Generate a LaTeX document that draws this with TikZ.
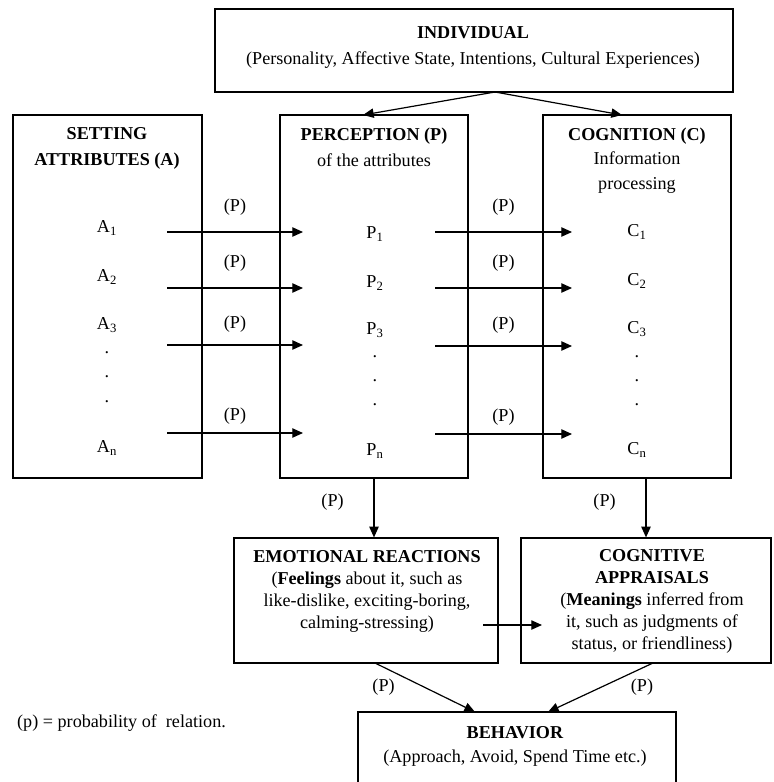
\documentclass[tikz,border=0pt]{standalone}
\usepackage{fontspec}
\setmainfont{Liberation Serif}
\usetikzlibrary{arrows.meta}
\begin{document}
\begin{tikzpicture}
[x=0.75pt,y=-0.75pt,font=\fontsize{13.6}{16.5}\selectfont,
  boxdecorate/.style 2 args={draw,line width=0.9pt,inner sep=0pt,%
    minimum width=#1*0.75pt,minimum height=#2*0.75pt},
  titledecorate/.style={align=center,font=\fontsize{13.6}{19.5}\selectfont},
  textdecorate/.style={align=center,font=\fontsize{13.6}{16.5}\selectfont},
  arrowdecorate/.style={-{Triangle[length=8pt,width=7pt]},line width=0.9pt}]
\useasboundingbox (0,0) rectangle (774,782);
% boxes
\node (indiv) [boxdecorate={518}{83}] at (474,50.5) {};
\node (setting) [boxdecorate={189}{363}] at (107.5,296.5) {};
\node (percep) [boxdecorate={188}{363}] at (374,296.5) {};
\node (cognit) [boxdecorate={188}{363}] at (637,296.5) {};
\node (emotion) [boxdecorate={264}{125}] at (366,600.5) {};
\node (apprais) [boxdecorate={250}{125}] at (646,600.5) {};
\node (behav) [boxdecorate={318}{80}] at (517,752) {};
% box texts
\node (indivtxt) [titledecorate] at (473,47)
  {\textbf{INDIVIDUAL}\\(Personality, Affective State, Intentions, Cultural Experiences)};
\node (settingtxt) [titledecorate] at (107,148) {\textbf{SETTING}\\\textbf{ATTRIBUTES (A)}};
\node (perceptxt) [titledecorate] at (374,147.5) {\textbf{PERCEPTION (P)}\\of the attributes};
\node (cognittxt) [titledecorate,font=\fontsize{13.6}{18.5}\selectfont] at (637,160.5)
  {\textbf{COGNITION (C)}\\Information\\processing};
\node (emotiontxt) [textdecorate] at (367,591)
  {\textbf{EMOTIONAL REACTIONS}\\(\textbf{Feelings} about it, such as\\like-dislike, exciting-boring,\\calming-stressing)};
\node (appraistxt) [textdecorate] at (652,601)
  {\textbf{COGNITIVE}\\\textbf{APPRAISALS}\\(\textbf{Meanings} inferred from\\it, such as judgments of\\status, or friendliness)};
\node (behavtxt) [textdecorate,font=\fontsize{13.6}{17.5}\selectfont] at (515,746.5)
  {\textbf{BEHAVIOR}\\(Approach, Avoid, Spend Time etc.)};
\node (legend) [anchor=west] at (12.5,723) {(p) = probability of\ \ relation.};
% attributes, perceptions, cognitions
\node (a1) at (107,228) {A\textsubscript{1}};
\node (a2) at (107,277) {A\textsubscript{2}};
\node (a3) at (107,325) {A\textsubscript{3}};
\node (adot1) at (107,353) {.};
\node (adot2) at (107,377) {.};
\node (adot3) at (107,402) {.};
\node (an) at (107,448) {A\textsubscript{n}};
\node (p1) at (375,234) {P\textsubscript{1}};
\node (p2) at (375,283) {P\textsubscript{2}};
\node (p3) at (375,330) {P\textsubscript{3}};
\node (pdot1) at (375,357) {.};
\node (pdot2) at (375,381) {.};
\node (pdot3) at (375,405) {.};
\node (pn) at (375,451) {P\textsubscript{n}};
\node (c1) at (637,232) {C\textsubscript{1}};
\node (c2) at (637,281) {C\textsubscript{2}};
\node (c3) at (637,329) {C\textsubscript{3}};
\node (cdot1) at (637,357) {.};
\node (cdot2) at (637,381) {.};
\node (cdot3) at (637,405) {.};
\node (cn) at (637,450) {C\textsubscript{n}};
% arrow ends
\coordinate (indivout) at (495,92);
\coordinate (pertop) at (363,115);
\coordinate (cogtop) at (622,115);
\coordinate (aout1) at (167,232); \coordinate (pin1) at (303,232);
\coordinate (aout2) at (167,288); \coordinate (pin2) at (303,288);
\coordinate (aout3) at (167,345); \coordinate (pin3) at (303,345);
\coordinate (aoutn) at (167,433); \coordinate (pinn) at (303,433);
\coordinate (pout1) at (435,232); \coordinate (cin1) at (572,232);
\coordinate (pout2) at (435,288); \coordinate (cin2) at (572,288);
\coordinate (pout3) at (435,346); \coordinate (cin3) at (572,346);
\coordinate (poutn) at (435,434); \coordinate (cinn) at (572,434);
\coordinate (emout) at (483,625);
\coordinate (appin) at (542,625);
\coordinate (emlow) at (375,663);
\coordinate (applow) at (653,663);
\coordinate (behin1) at (475,712);
\coordinate (behin2) at (548,712);
% arrows
\path
(indivout) edge[arrowdecorate] (pertop)
(indivout) edge[arrowdecorate] (cogtop)
(aout1) edge[arrowdecorate] node[above=9pt]{(P)} (pin1)
(aout2) edge[arrowdecorate] node[above=9pt]{(P)} (pin2)
(aout3) edge[arrowdecorate] node[above=5.5pt]{(P)} (pin3)
(aoutn) edge[arrowdecorate] node[above=2.8pt]{(P)} (pinn)
(pout1) edge[arrowdecorate] node[above=9pt]{(P)} (cin1)
(pout2) edge[arrowdecorate] node[above=9pt]{(P)} (cin2)
(pout3) edge[arrowdecorate] node[above=5.5pt]{(P)} (cin3)
(poutn) edge[arrowdecorate] node[above=2.8pt]{(P)} (cinn)
(percep.south) edge[arrowdecorate] node[pos=0.4,left=19pt]{(P)} (percep.south |- emotion.north)
(cognit.south -| apprais.north) edge[arrowdecorate] node[pos=0.4,left=19pt]{(P)} (apprais.north)
(emout) edge[arrowdecorate] (appin)
(emlow) edge[arrowdecorate] node[left=19pt]{(P)} (behin1)
(applow) edge[arrowdecorate] node[right=19pt]{(P)} (behin2);
\end{tikzpicture}
\end{document}
